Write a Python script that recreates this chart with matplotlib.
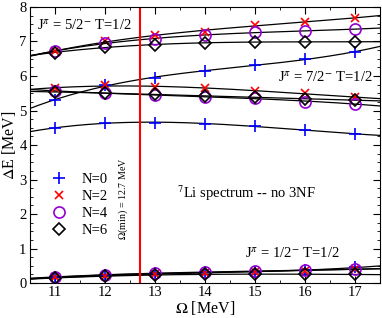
import numpy as np
import matplotlib
matplotlib.use("Agg")
import matplotlib.pyplot as plt
from matplotlib.ticker import MultipleLocator

plt.rcParams['font.family'] = ['Liberation Serif', 'DejaVu Serif']
plt.rcParams['mathtext.fontset'] = 'stix'

# hbar-Omega values (MeV)
omega = [11, 12, 13, 14, 15, 16, 17]

# excitation energies, one list per state and per N
# N=0
e0_half = [0.17, 0.22, 0.28, 0.31, 0.33, 0.37, 0.45]
e0_low = [4.49, 4.65, 4.65, 4.61, 4.55, 4.43, 4.32]
e0_up = [5.30, 5.75, 5.94, 6.14, 6.32, 6.49, 6.70]
# N=2
e2_half = [0.16, 0.20, 0.26, 0.30, 0.33, 0.36, 0.40]
e2_mid = [5.65, 5.74, 5.68, 5.65, 5.57, 5.50, 5.38]
e2_top = [6.72, 7.00, 7.19, 7.28, 7.48, 7.57, 7.68]
# N=4
e4_half = [0.18, 0.23, 0.29, 0.32, 0.34, 0.37, 0.40]
e4_mid = [5.57, 5.50, 5.45, 5.39, 5.36, 5.26, 5.19]
e4_top = [6.72, 6.96, 7.07, 7.19, 7.27, 7.30, 7.36]
# N=6
e6_half = [0.15, 0.19, 0.24, 0.25, 0.26, 0.25, 0.25]
e6_mid = [5.54, 5.50, 5.47, 5.42, 5.39, 5.33, 5.30]
e6_top = [6.68, 6.84, 6.90, 6.96, 6.99, 6.99, 6.99]

omega_min = 12.7

fig = plt.figure(figsize=(3.82, 3.18), dpi=100)
ax = fig.add_axes([0.0785, 0.110, 0.917, 0.868])

# fitted curves drawn over the whole range
xx = np.linspace(10.5, 17.5, 200)
for s in [e0_half, e0_low, e0_up, e2_half, e2_mid, e2_top,
          e4_half, e4_mid, e4_top, e6_half, e6_mid, e6_top]:
    c = np.polyfit(omega, s, 3)
    ax.plot(xx, np.polyval(c, xx), color='black', lw=0.9, zorder=1)

ax.axvline(omega_min, color='red', lw=1.5, zorder=2)

ms = 7
for s in [e0_half, e0_low, e0_up]:
    ax.plot(omega, s, ls='none', marker='+', ms=ms + 1, mew=1.2, color='blue', zorder=3)
for s in [e2_half, e2_mid, e2_top]:
    ax.plot(omega, s, ls='none', marker='x', ms=ms - 1, mew=1.2, color='red', zorder=3)
for s in [e4_half, e4_mid, e4_top]:
    ax.plot(omega, s, ls='none', marker='o', ms=ms + 1, mew=1.2, mfc='none', mec='darkviolet', zorder=3)
for s in [e6_half, e6_mid, e6_top]:
    ax.plot(omega, s, ls='none', marker='D', ms=ms - 1, mew=1.2, mfc='none', mec='black', zorder=4)

# legend entries
h0, = ax.plot([], [], ls='none', marker='+', ms=ms + 1, mew=1.2, color='blue', label='N=0')
h2, = ax.plot([], [], ls='none', marker='x', ms=ms - 1, mew=1.2, color='red', label='N=2')
h4, = ax.plot([], [], ls='none', marker='o', ms=ms + 1, mew=1.2, mfc='none', mec='darkviolet', label='N=4')
h6, = ax.plot([], [], ls='none', marker='D', ms=ms - 1, mew=1.2, mfc='none', mec='black', label='N=6')
ax.legend(handles=[h0, h2, h4, h6], loc='upper left', bbox_to_anchor=(0.04, 0.42),
          frameon=False, fontsize=10.5, handletextpad=1.0, labelspacing=0.25,
          borderaxespad=0, handlelength=1.2)

ax.text(10.64, 7.35, r'J$^{\pi}$ = 5/2$^{-}$ T=1/2', fontsize=10.5)
ax.text(15.45, 5.82, r'J$^{\pi}$ = 7/2$^{-}$ T=1/2', fontsize=10.5)
ax.text(14.8, 0.72, r'J$^{\pi}$ = 1/2$^{-}$ T=1/2', fontsize=10.5)
ax.text(13.44, 2.45, r'$^{7}$Li spectrum -- no 3NF', fontsize=10.5)
ax.text(12.36, 2.45, r'$\Omega$(min) = 12.7 MeV', fontsize=7.2, rotation=90,
        ha='center', va='center')

ax.set_xlim(10.5, 17.5)
ax.set_ylim(0, 8)
ax.xaxis.set_major_locator(MultipleLocator(1))
ax.xaxis.set_minor_locator(MultipleLocator(0.5))
ax.yaxis.set_major_locator(MultipleLocator(1))
ax.yaxis.set_minor_locator(MultipleLocator(0.25))
ax.tick_params(which='both', direction='in', top=True, right=True, labelsize=10.5, pad=2.5)
ax.tick_params(which='major', length=5)
ax.tick_params(which='minor', length=2.5)
ax.set_xlabel(r'$\Omega$ [MeV]', fontsize=11.5, labelpad=0)
ax.set_ylabel(r'$\Delta$E [MeV]', fontsize=11.5, labelpad=1)

fig.savefig('out.png', dpi=100)
